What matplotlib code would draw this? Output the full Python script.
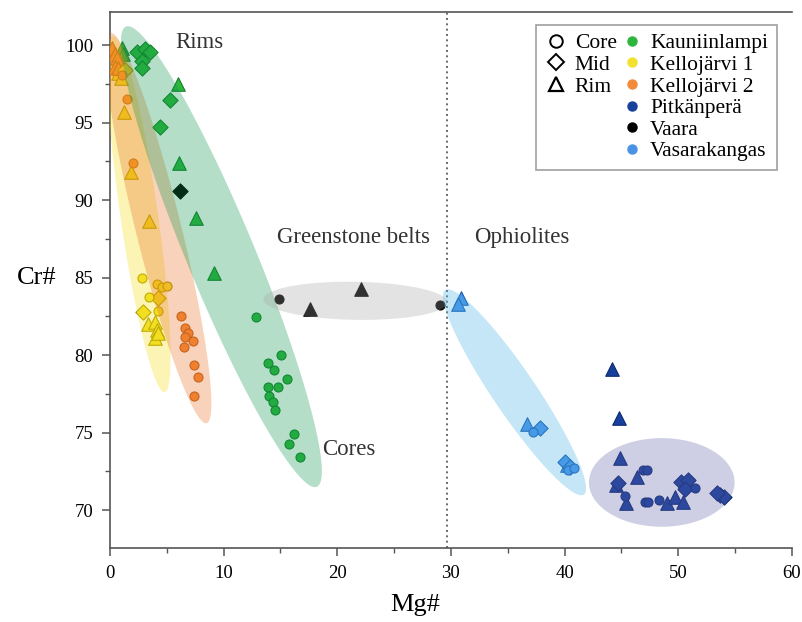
import numpy as np
import matplotlib
matplotlib.use("Agg")
import matplotlib.pyplot as plt
from matplotlib.lines import Line2D
from matplotlib.ticker import MultipleLocator

plt.rcParams['font.family'] = ['Liberation Serif', 'DejaVu Serif']

# ---- measured compositions (Mg#, Cr#) grouped by site and zone ----
kau_core_x = [12.84, 15.07, 13.87, 14.42, 15.54, 13.87, 14.78, 13.98, 14.36, 14.51, 16.16, 15.74, 16.71]
kau_core_y = [82.43, 80.00, 79.48, 79.01, 78.47, 77.94, 77.92, 77.37, 76.97, 76.43, 74.92, 74.26, 73.40]
kau_mid_x = [2.35, 3.07, 3.52, 2.79, 2.79, 5.28, 4.40]
kau_mid_y = [99.53, 99.72, 99.53, 98.95, 98.50, 96.45, 94.69]
kau_rim_x = [1.03, 1.17, 5.95, 6.10, 7.56, 9.12]
kau_rim_y = [99.79, 99.46, 97.46, 92.40, 88.86, 85.27]

kj1_core_x = [2.79, 4.10, 4.55, 4.99, 3.46, 4.25]
kj1_core_y = [85.00, 84.58, 84.37, 84.47, 83.72, 82.86]
kj1_mid_x = [4.25, 2.87, 1.32]
kj1_mid_y = [83.66, 82.79, 98.39]
kj1_rim_x = [3.37, 3.96, 4.10, 3.96, 4.25, 3.46, 1.85, 1.23, 0.73, 1.17, 1.00]
kj1_rim_y = [82.00, 82.15, 81.61, 81.08, 81.40, 88.65, 91.80, 95.70, 98.17, 98.60, 97.90]

kj2_core_x = [1.47, 2.00, 6.24, 6.60, 6.89, 6.60, 7.27, 6.51, 7.42, 7.77, 7.39, 1.03]
kj2_core_y = [96.50, 92.37, 82.50, 81.76, 81.44, 81.18, 80.92, 80.54, 79.34, 78.56, 77.33, 98.06]
kj2_mid_x = []
kj2_mid_y = []
kj2_rim_x = [0.15, 0.44, 0.59, 0.44, 0.73]
kj2_rim_y = [99.79, 99.46, 99.14, 98.60, 98.50]

pit_core_x = [46.91, 45.29, 47.05, 47.35, 48.31, 51.45, 47.30]
pit_core_y = [72.58, 70.92, 70.54, 70.50, 70.65, 71.40, 72.60]
pit_mid_x = [44.70, 50.28, 50.86, 50.57, 53.65, 54.00, 53.41]
pit_mid_y = [71.76, 71.83, 71.94, 71.34, 70.97, 70.86, 71.08]
pit_rim_x = [44.18, 44.80, 44.86, 44.56, 46.38, 45.44, 49.02, 49.69, 50.42]
pit_rim_y = [79.08, 75.92, 73.34, 71.61, 72.15, 70.43, 70.43, 70.86, 70.54]

vaa_core_x = [14.89, 29.08]
vaa_core_y = [83.59, 83.23]
vaa_mid_x = [6.16]
vaa_mid_y = [90.60]
vaa_rim_x = [17.59, 22.08]
vaa_rim_y = [83.00, 84.26]

vas_core_x = [37.23, 40.30, 40.80]
vas_core_y = [75.01, 72.60, 72.70]
vas_mid_x = [37.82, 40.00, 40.50]
vas_mid_y = [75.27, 73.10, 72.80]
vas_rim_x = [30.93, 30.64, 36.74, 40.20]
vas_rim_y = [83.66, 83.27, 75.55, 72.90]

site_names = ["Kauniinlampi", "Kellojärvi 1", "Kellojärvi 2", "Pitkänperä", "Vaara", "Vasarakangas"]
site_fill = ["#2eb53e", "#f2e12e", "#f28a3a", "#173f9c", "#000000", "#4a92e6"]
site_edge = ["#17802a", "#a89600", "#b8601e", "#0d2a70", "#000000", "#1f5cb0"]

sites = [
    (kau_core_x, kau_core_y, kau_mid_x, kau_mid_y, kau_rim_x, kau_rim_y),
    (kj1_core_x, kj1_core_y, kj1_mid_x, kj1_mid_y, kj1_rim_x, kj1_rim_y),
    (kj2_core_x, kj2_core_y, kj2_mid_x, kj2_mid_y, kj2_rim_x, kj2_rim_y),
    (pit_core_x, pit_core_y, pit_mid_x, pit_mid_y, pit_rim_x, pit_rim_y),
    (vaa_core_x, vaa_core_y, vaa_mid_x, vaa_mid_y, vaa_rim_x, vaa_rim_y),
    (vas_core_x, vas_core_y, vas_mid_x, vas_mid_y, vas_rim_x, vas_rim_y),
]

# field outlines: major-axis end points (Mg#, Cr#) and minor-axis width in Mg# units
field_p1 = [(0.3, 100.6), (0.0, 100.8), (1.4, 101.2), (13.5, 83.6), (29.5, 84.2), (42.15, 71.78)]
field_p2 = [(4.8, 77.6), (8.5, 75.6), (18.2, 71.5), (29.7, 83.4), (41.7, 71.0), (54.97, 71.78)]
field_w = [3.3, 4.0, 6.0, 3.35, 3.8, 7.8]
field_col = ["#f7dc08", "#e86c1c", "#08944a", "#a5a5a5", "#41afe4", "#5f62a8"]
field_alpha = 0.3

divider_mg = 29.7

fig = plt.figure(figsize=(8.03, 6.22), dpi=100)
ax = fig.add_axes([0.137, 0.119, 0.849, 0.862])
xlim = (0, 60)
ylim = (67.55, 102.15)
ax.set_xlim(*xlim)
ax.set_ylim(*ylim)

# aspect factor so ellipses are true ellipses on screen
fw, fh = fig.get_size_inches() * fig.dpi
pos = ax.get_position()
px_x = pos.width * fw / (xlim[1] - xlim[0])
px_y = pos.height * fh / (ylim[1] - ylim[0])
r = px_y / px_x

t = np.linspace(0, 2 * np.pi, 200)
for p1, p2, w, c in zip(field_p1, field_p2, field_w, field_col):
    x1, y1 = p1[0], p1[1] * r
    x2, y2 = p2[0], p2[1] * r
    cx, cy = (x1 + x2) / 2, (y1 + y2) / 2
    L = np.hypot(x2 - x1, y2 - y1)
    ux, uy = (x2 - x1) / L, (y2 - y1) / L
    vx, vy = -uy, ux
    ex = cx + L / 2 * np.cos(t) * ux + w / 2 * np.sin(t) * vx
    ey = cy + L / 2 * np.cos(t) * uy + w / 2 * np.sin(t) * vy
    # translucent fields sit over the symbols
    ax.fill(ex, ey / r, color=c, alpha=field_alpha, lw=0, zorder=6)

ax.axvline(divider_mg, color="#555555", ls=(0, (1.2, 2.0)), lw=1.2, zorder=2)

for (cxs, cys, mxs, mys, rxs, rys), fc, ec in zip(sites, site_fill, site_edge):
    ax.scatter(rxs, rys, marker="^", s=95, facecolor=fc, edgecolor=ec, linewidth=0.8, zorder=3)
    ax.scatter(mxs, mys, marker="D", s=60, facecolor=fc, edgecolor=ec, linewidth=0.8, zorder=4)
    ax.scatter(cxs, cys, marker="o", s=42, facecolor=fc, edgecolor=ec, linewidth=0.8, zorder=5)

# annotations
txt = dict(fontsize=16.5, color="#333333", ha="center", va="center", zorder=7)
ax.text(7.83, 100.2, "Rims", **txt)
ax.text(21.06, 73.9, "Cores", **txt)
ax.text(21.46, 87.6, "Greenstone belts", **txt)
ax.text(36.2, 87.6, "Ophiolites", **txt)

# axes styling
ax.spines["right"].set_visible(False)
for s in ("left", "bottom", "top"):
    ax.spines[s].set_color("#555555")
    ax.spines[s].set_linewidth(1.2)
ax.xaxis.set_major_locator(MultipleLocator(10))
ax.xaxis.set_minor_locator(MultipleLocator(5))
ax.yaxis.set_minor_locator(MultipleLocator(2.5))
ax.set_yticks([70, 75, 80, 85, 90, 95, 100])
ax.tick_params(axis="both", which="major", direction="out", length=6, width=1.1,
               color="#555555", labelsize=13.5, pad=6)
ax.tick_params(axis="both", which="minor", direction="out", length=3.5, width=1.0, color="#555555")
ax.tick_params(axis="x", which="both", top=False)

ax.set_xlabel("Mg#", fontsize=19)
ax.xaxis.set_label_coords(0.447, -0.085)
ax.set_ylabel("Cr#", fontsize=19, rotation=0)
ax.yaxis.set_label_coords(-0.107, 0.483)

# legend: zone shapes in the first column, sites in the second
blank = Line2D([], [], linestyle="none", marker=None)
shape_handles = [
    Line2D([], [], linestyle="none", marker="o", markersize=9, mfc="white", mec="black", mew=1.4),
    Line2D([], [], linestyle="none", marker="D", markersize=8.5, mfc="white", mec="black", mew=1.4),
    Line2D([], [], linestyle="none", marker="^", markersize=10.5, mfc="white", mec="black", mew=1.6),
]
shape_labels = ["Core", "Mid", "Rim"]
site_handles = [Line2D([], [], linestyle="none", marker="o", markersize=6.5, mfc=fc, mec=fc)
                for fc in site_fill]
handles = shape_handles + [blank] * 3 + site_handles
labels = shape_labels + [""] * 3 + site_names
leg = ax.legend(handles, labels, ncol=2, loc="upper right", bbox_to_anchor=(0.978, 0.976),
                borderaxespad=0, fontsize=15.5, frameon=True, fancybox=False, edgecolor="#888888",
                handletextpad=0.3, columnspacing=0.15, labelspacing=0.07,
                handlelength=1.1, borderpad=0.4)
leg.get_frame().set_linewidth(1.2)

fig.savefig("out.png", dpi=100)
